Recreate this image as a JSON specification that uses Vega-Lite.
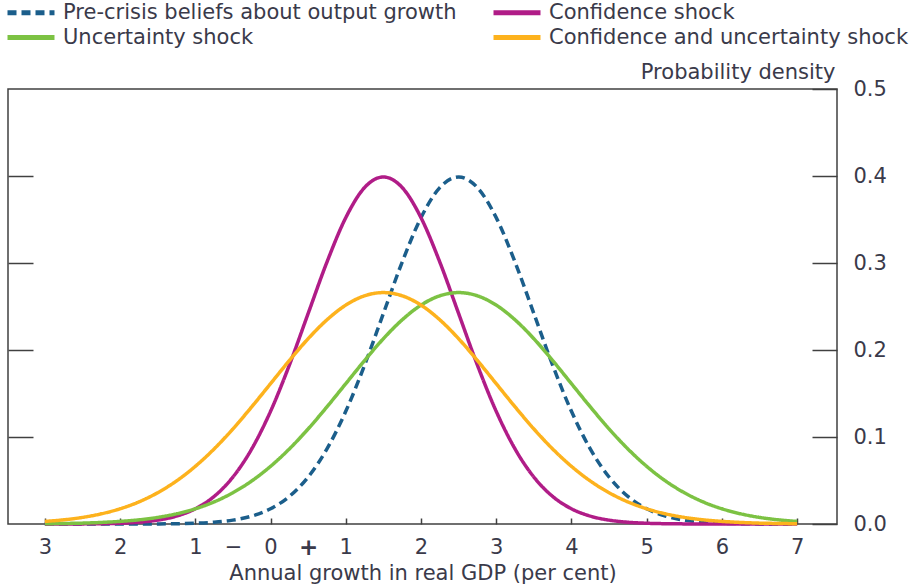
{
  "$schema": "https://vega.github.io/schema/vega-lite/v6.json",
  "width": 829,
  "height": 435,
  "autosize": "none",
  "padding": {"left": 8, "top": 89, "right": 75, "bottom": 60},
  "background": "white",
  "config": {
    "view": {"stroke": "#404040", "strokeWidth": 1.5},
    "font": "DejaVu Sans"
  },
  "data": {
    "values": [
      {"x": -3, "pre": 0, "conf": 0.00002, "unc": 0.0003, "cu": 0.0030},
      {"x": -2.75, "pre": 0, "conf": 0.00005, "unc": 0.0006, "cu": 0.0048},
      {"x": -2.5, "pre": 0.0000015, "conf": 0.00013, "unc": 0.0010, "cu": 0.0076},
      {"x": -2.25, "pre": 0.000005, "conf": 0.00035, "unc": 0.0018, "cu": 0.0117},
      {"x": -2, "pre": 0.00002, "conf": 0.00087, "unc": 0.0030, "cu": 0.0175},
      {"x": -1.75, "pre": 0.00005, "conf": 0.00203, "unc": 0.0048, "cu": 0.0254},
      {"x": -1.5, "pre": 0.00013, "conf": 0.00443, "unc": 0.0076, "cu": 0.0360},
      {"x": -1.25, "pre": 0.00035, "conf": 0.0091, "unc": 0.0117, "cu": 0.0495},
      {"x": -1, "pre": 0.00087, "conf": 0.0175, "unc": 0.0175, "cu": 0.0663},
      {"x": -0.75, "pre": 0.00203, "conf": 0.0317, "unc": 0.0254, "cu": 0.0863},
      {"x": -0.5, "pre": 0.00443, "conf": 0.0540, "unc": 0.0360, "cu": 0.1093},
      {"x": -0.25, "pre": 0.0091, "conf": 0.0863, "unc": 0.0495, "cu": 0.1347},
      {"x": 0, "pre": 0.0175, "conf": 0.1295, "unc": 0.0663, "cu": 0.1613},
      {"x": 0.25, "pre": 0.0317, "conf": 0.1826, "unc": 0.0863, "cu": 0.1879},
      {"x": 0.5, "pre": 0.0540, "conf": 0.2420, "unc": 0.1093, "cu": 0.2130},
      {"x": 0.75, "pre": 0.0863, "conf": 0.3011, "unc": 0.1347, "cu": 0.2347},
      {"x": 1, "pre": 0.1295, "conf": 0.3521, "unc": 0.1613, "cu": 0.2516},
      {"x": 1.25, "pre": 0.1826, "conf": 0.3867, "unc": 0.1879, "cu": 0.2623},
      {"x": 1.5, "pre": 0.2420, "conf": 0.3989, "unc": 0.2130, "cu": 0.2660},
      {"x": 1.75, "pre": 0.3011, "conf": 0.3867, "unc": 0.2347, "cu": 0.2623},
      {"x": 2, "pre": 0.3521, "conf": 0.3521, "unc": 0.2516, "cu": 0.2516},
      {"x": 2.25, "pre": 0.3867, "conf": 0.3011, "unc": 0.2623, "cu": 0.2347},
      {"x": 2.5, "pre": 0.3989, "conf": 0.2420, "unc": 0.2660, "cu": 0.2130},
      {"x": 2.75, "pre": 0.3867, "conf": 0.1826, "unc": 0.2623, "cu": 0.1879},
      {"x": 3, "pre": 0.3521, "conf": 0.1295, "unc": 0.2516, "cu": 0.1613},
      {"x": 3.25, "pre": 0.3011, "conf": 0.0863, "unc": 0.2347, "cu": 0.1347},
      {"x": 3.5, "pre": 0.2420, "conf": 0.0540, "unc": 0.2130, "cu": 0.1093},
      {"x": 3.75, "pre": 0.1826, "conf": 0.0317, "unc": 0.1879, "cu": 0.0863},
      {"x": 4, "pre": 0.1295, "conf": 0.0175, "unc": 0.1613, "cu": 0.0663},
      {"x": 4.25, "pre": 0.0863, "conf": 0.0091, "unc": 0.1347, "cu": 0.0495},
      {"x": 4.5, "pre": 0.0540, "conf": 0.00443, "unc": 0.1093, "cu": 0.0360},
      {"x": 4.75, "pre": 0.0317, "conf": 0.00203, "unc": 0.0863, "cu": 0.0254},
      {"x": 5, "pre": 0.0175, "conf": 0.00087, "unc": 0.0663, "cu": 0.0175},
      {"x": 5.25, "pre": 0.0091, "conf": 0.00035, "unc": 0.0495, "cu": 0.0117},
      {"x": 5.5, "pre": 0.00443, "conf": 0.00013, "unc": 0.0360, "cu": 0.0076},
      {"x": 5.75, "pre": 0.00203, "conf": 0.00005, "unc": 0.0254, "cu": 0.0048},
      {"x": 6, "pre": 0.00087, "conf": 0.00002, "unc": 0.0175, "cu": 0.0030},
      {"x": 6.25, "pre": 0.00035, "conf": 0.000005, "unc": 0.0117, "cu": 0.0018},
      {"x": 6.5, "pre": 0.00013, "conf": 0, "unc": 0.0076, "cu": 0.0010},
      {"x": 6.75, "pre": 0.00005, "conf": 0, "unc": 0.0048, "cu": 0.0006},
      {"x": 7, "pre": 0.00002, "conf": 0, "unc": 0.0030, "cu": 0.0003}
    ]
  },
  "transform": [{"fold": ["pre", "conf", "unc", "cu"], "as": ["series", "density"]}],
  "layer": [
    {
      "mark": {"type": "line", "strokeWidth": 3.5, "clip": false, "interpolate": "monotone"},
      "encoding": {
        "x": {
          "field": "x", "type": "quantitative",
          "scale": {"domain": [-3.49, 7.53], "nice": false, "zero": false},
          "axis": {
            "orient": "bottom",
            "values": [-3, -2, -1, -0.5, 0, 0.5, 1, 2, 3, 4, 5, 6, 7],
            "labelExpr": "datum.value == -0.5 ? '−' : (datum.value == 0.5 ? '+' : format(abs(datum.value), 'd'))",
            "tickSize": -6, "tickColor": "#404040", "tickWidth": 1.5,
            "tickOpacity": {"condition": {"test": "abs(datum.value) == 0.5", "value": 0}, "value": 1},
            "labelFontSize": {"condition": {"test": "datum.value == 0.5", "value": 23}, "value": 21},
            "labelFontWeight": {"condition": {"test": "datum.value == 0.5", "value": "bold"}, "value": "normal"},
            "domain": false, "grid": false,
            "labelPadding": 18, "labelColor": "#3a3a4a",
            "labelOverlap": false, "labelFlush": false,
            "title": "Annual growth in real GDP (per cent)",
            "titleFontSize": 21, "titleFontWeight": "normal", "titleColor": "#3a3a4a",
            "titleY": 49, "titleBaseline": "middle"
          }
        },
        "y": {
          "field": "density", "type": "quantitative",
          "scale": {"domain": [0, 0.5], "nice": false},
          "axis": {
            "orient": "right", "values": [0, 0.1, 0.2, 0.3, 0.4, 0.5], "format": ".1f",
            "tickSize": -25, "tickColor": "#404040", "tickWidth": 1.5,
            "labelPadding": 41, "labelFontSize": 21, "labelColor": "#3a3a4a",
            "domain": false, "grid": false,
            "title": "Probability density", "titleFontSize": 21, "titleFontWeight": "normal",
            "titleColor": "#3a3a4a", "titleAngle": 0, "titleAlign": "right",
            "titleX": -2, "titleY": -17, "titleBaseline": "middle"
          }
        },
        "color": {
          "field": "series", "type": "nominal",
          "scale": {"domain": ["pre", "conf", "unc", "cu"], "range": ["#1b5e8b", "#b01c87", "#7cc243", "#fdb21d"]},
          "legend": {
            "title": null, "orient": "none", "legendX": -3, "legendY": -89,
            "direction": "horizontal", "columns": 2,
            "symbolType": "M-1,0H3.7", "symbolSize": 400, "symbolStrokeWidth": 5,
            "labelFontSize": 21, "labelColor": "#3a3a4a", "labelOffset": 33,
            "rowPadding": 2, "columnPadding": 26, "labelLimit": 600,
            "labelExpr": "datum.label == 'pre' ? 'Pre-crisis beliefs about output growth' : datum.label == 'conf' ? 'Confidence shock' : datum.label == 'unc' ? 'Uncertainty shock' : 'Confidence and uncertainty shock'"
          }
        },
        "strokeDash": {
          "field": "series", "type": "nominal",
          "scale": {"domain": ["pre", "conf", "unc", "cu"], "range": [[9, 5], [1, 0], [1, 0], [1, 0]]},
          "legend": {
            "title": null, "orient": "none", "legendX": -3, "legendY": -89,
            "direction": "horizontal", "columns": 2,
            "symbolType": "M-1,0H3.7", "symbolSize": 400, "symbolStrokeWidth": 5,
            "labelFontSize": 21, "labelColor": "#3a3a4a", "labelOffset": 33,
            "rowPadding": 2, "columnPadding": 26, "labelLimit": 600,
            "labelExpr": "datum.label == 'pre' ? 'Pre-crisis beliefs about output growth' : datum.label == 'conf' ? 'Confidence shock' : datum.label == 'unc' ? 'Uncertainty shock' : 'Confidence and uncertainty shock'"
          }
        }
      }
    },
    {
      "mark": {"type": "line", "opacity": 0},
      "encoding": {
        "x": {"field": "x", "type": "quantitative", "axis": null},
        "y": {
          "field": "density", "type": "quantitative",
          "axis": {"orient": "left", "values": [0.1, 0.2, 0.3, 0.4], "tickSize": -25, "tickColor": "#404040", "tickWidth": 1.5, "labels": false, "domain": false, "grid": false, "title": null}
        },
        "detail": {"field": "series"}
      }
    }
  ],
  "resolve": {"axis": {"x": "independent", "y": "independent"}}
}
